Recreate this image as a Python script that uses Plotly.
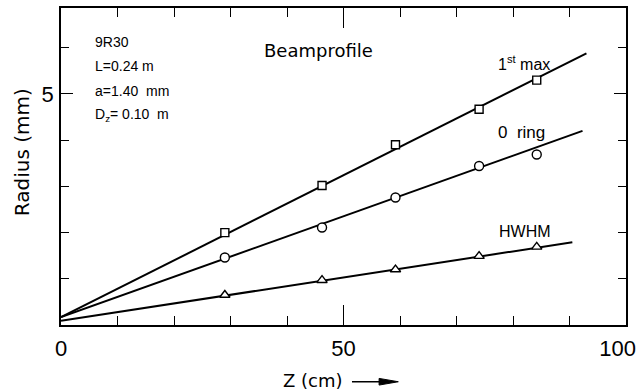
import plotly.graph_objects as go

# ---- data ----
z_points = [29.0, 46.2, 59.2, 74.0, 84.2]            # Z (cm)
first_max = [2.00, 3.02, 3.90, 4.67, 5.30]           # Radius (mm)
zero_ring = [1.46, 2.11, 2.76, 3.44, 3.69]
hwhm = [0.65, 0.97, 1.20, 1.49, 1.69]

fit_max_x = [0.0, 93.0]
fit_max_y = [0.17, 5.88]
fit_ring_x = [0.0, 92.3]
fit_ring_y = [0.17, 4.20]
fit_hwhm_x = [0.0, 90.5]
fit_hwhm_y = [0.09, 1.79]

x_tickvals = [0, 50, 100]
x_ticktext = ["0", "50", "100\u2007\u2009"]   # trailing blanks keep "100" inside the page
y_tickvals = [5]
y_ticktext = ["5"]

NARROW = "Liberation Sans Narrow, Arial Narrow, Liberation Sans, Arial, sans-serif"
WIDE = "DejaVu Sans, Verdana, sans-serif"

fig = go.Figure()

line_style = dict(color="black", width=2)
for fx, fy in [(fit_max_x, fit_max_y), (fit_ring_x, fit_ring_y), (fit_hwhm_x, fit_hwhm_y)]:
    fig.add_trace(go.Scatter(x=fx, y=fy, mode="lines", line=line_style,
                             hoverinfo="skip", showlegend=False))

mk_line = dict(color="black", width=1.4)
fig.add_trace(go.Scatter(x=z_points, y=first_max, mode="markers", showlegend=False,
                         marker=dict(symbol="square", size=8, color="white", line=mk_line)))
fig.add_trace(go.Scatter(x=z_points, y=zero_ring, mode="markers", showlegend=False,
                         marker=dict(symbol="circle", size=9, color="white", line=mk_line)))
fig.add_trace(go.Scatter(x=z_points, y=hwhm, mode="markers", showlegend=False,
                         marker=dict(symbol="triangle-up", size=9, color="white", line=mk_line)))

fig.update_layout(
    width=637, height=391,
    margin=dict(l=61, r=11, t=8, b=66, autoexpand=False),
    paper_bgcolor="white", plot_bgcolor="white",
    font=dict(family=NARROW, color="black", size=22),
    showlegend=False,
)

fig.update_xaxes(
    range=[0, 100], tickvals=x_tickvals, ticktext=x_ticktext,
    showgrid=False, zeroline=False, automargin=False,
    showline=True, linecolor="black", linewidth=1.5, mirror="ticks",
    ticks="inside", ticklen=20, tickwidth=1.3, tickcolor="black",
    minor=dict(dtick=10, tick0=0, ticks="inside", ticklen=9, tickwidth=1.3,
               tickcolor="black", showgrid=False),
    tickfont=dict(family=NARROW, size=22, color="black"),
    ticklabelstandoff=3, ticklabeloverflow="allow",
)
fig.update_yaxes(
    range=[0, 6.86], tickvals=y_tickvals, ticktext=y_ticktext,
    showgrid=False, zeroline=False, automargin=False,
    showline=True, linecolor="black", linewidth=1.5, mirror="ticks",
    ticks="inside", ticklen=12, tickwidth=1.3, tickcolor="black",
    minor=dict(dtick=1, tick0=0, ticks="inside", ticklen=8, tickwidth=1.3,
               tickcolor="black", showgrid=False),
    tickfont=dict(family=NARROW, size=22, color="black"),
    ticklabelstandoff=1,
)

annots = []
block = ["9R30", "L=0.24 m", "a=1.40\u00a0 mm", "D<sub>z</sub>= 0.10\u00a0 m"]
block_y = [6.13, 5.61, 5.06, 4.55]
for t, yy in zip(block, block_y):
    annots.append(dict(x=5.6, y=yy, xref="x", yref="y", text=t, showarrow=False,
                       xanchor="left", yanchor="middle",
                       font=dict(family=NARROW, size=14, color="black")))
annots.append(dict(x=35.6, y=5.95, xref="x", yref="y", text="Beamprofile", showarrow=False,
                   xanchor="left", yanchor="middle",
                   font=dict(family=WIDE, size=18, color="black")))
annots.append(dict(x=77.0, y=5.67, xref="x", yref="y", text="1<sup>st</sup> max", showarrow=False,
                   xanchor="left", yanchor="middle",
                   font=dict(family=NARROW, size=16, color="black")))
annots.append(dict(x=77.0, y=4.16, xref="x", yref="y", text="0\u00a0 ring", showarrow=False,
                   xanchor="left", yanchor="middle",
                   font=dict(family=NARROW, size=17, color="black")))
annots.append(dict(x=77.2, y=2.02, xref="x", yref="y", text="HWHM", showarrow=False,
                   xanchor="left", yanchor="middle",
                   font=dict(family=NARROW, size=16, color="black")))
annots.append(dict(x=-0.069, y=0.545, xref="paper", yref="paper", text="Radius (mm)",
                   showarrow=False, textangle=-90, xanchor="center", yanchor="middle",
                   font=dict(family=WIDE, size=20, color="black")))
annots.append(dict(x=39.0, y=-0.176, xref="x", yref="paper", text="Z (cm)",
                   showarrow=False, xanchor="left", yanchor="middle",
                   font=dict(family=WIDE, size=18, color="black")))
fig.update_layout(annotations=annots)

# arrow after the x-axis title
fig.add_shape(type="line", xref="x", yref="paper", x0=51.5, x1=57.5, y0=-0.179, y1=-0.179,
              line=dict(color="black", width=1.5))
fig.add_shape(type="path", xref="x", yref="paper",
              path="M 56.3,-0.1685 L 59.7,-0.179 L 56.3,-0.1895 Z",
              fillcolor="black", line=dict(color="black", width=1))

fig.write_html("out.html", config={"displayModeBar": False},
               post_script="document.body.style.margin='0';document.body.style.overflow='hidden';")
